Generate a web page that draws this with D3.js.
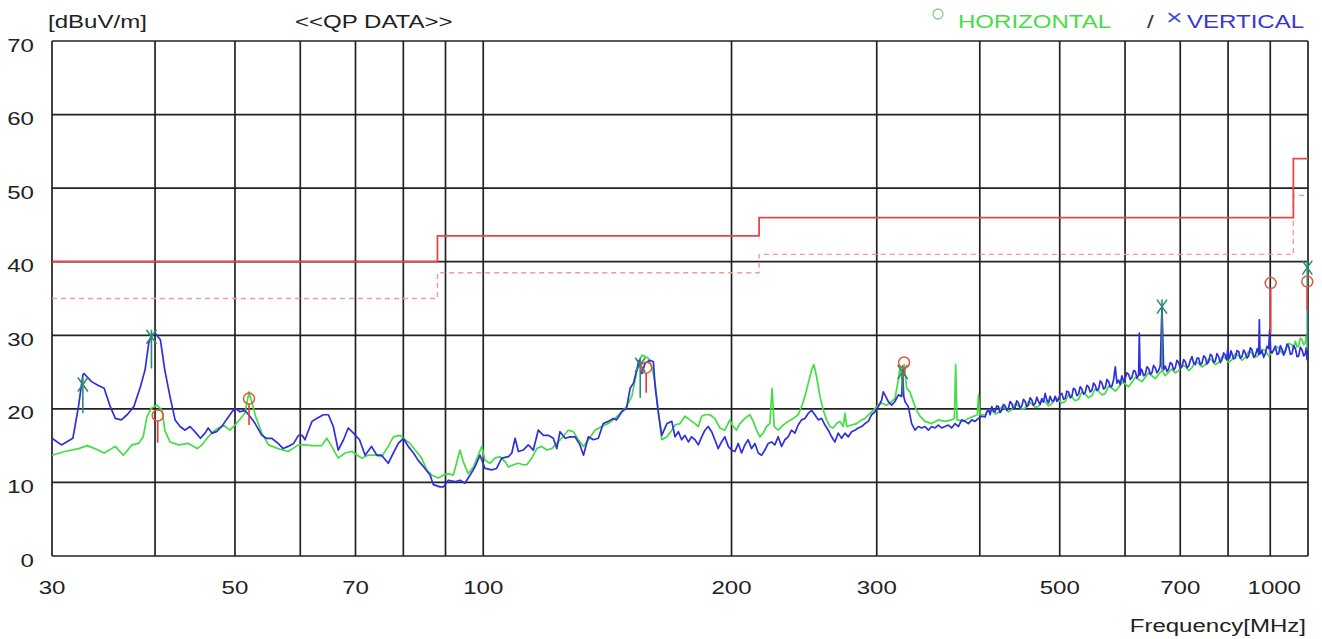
<!DOCTYPE html>
<html>
<head>
<meta charset="utf-8">
<script src="https://cdn.jsdelivr.net/npm/d3@7"></script>
<style>
html,body{margin:0;padding:0;background:#fff;}
svg{display:block;}
text{font-family:"Liberation Sans",Arial,sans-serif;}
</style>
</head>
<body>
<svg id="chart" width="1322" height="639"></svg>
<script>
// ---------- data ----------
const xTickLabels = [30, 50, 70, 100, 200, 300, 500, 700, 1000];
const xGridFreqs = [30, 40, 50, 60, 70, 80, 90, 100, 200, 300, 400, 500, 600, 700, 800, 900, 1000];
const yTickLabels = [0, 10, 20, 30, 40, 50, 60, 70];

// QP limit (solid) and margin (dashed): [MHz, dBuV/m], stepped
const limitQP = [[30, 40], [88, 43.5], [216, 46], [960, 54], [1000, 54]];
const marginQP = [[30, 35], [88, 38.5], [216, 41], [960, 49], [1000, 49]];

// Horizontal polarisation trace [MHz, dBuV/m]
const horizontalTrace = [
[30.0,13.7],[31.1,14.2],[32.3,14.6],[33.1,15.0],[33.8,14.6],[34.7,14.0],[35.8,14.9],[36.6,13.7],[37.5,15.1],[38.2,15.3],[38.7,16.2],[39.1,18.9],[39.6,20.1],[40.2,20.5],[40.8,19.8],[41.1,17.1],[41.7,15.5],[42.7,15.1],[43.9,15.3],[45.0,14.6],[45.6,15.1],[46.4,16.2],[47.3,17.1],[48.4,17.8],[49.3,17.1],[50.2,18.0],[51.4,19.4],[52.0,22.3],[53.0,18.9],[53.9,16.7],[54.9,15.1],[56.4,14.6],[58.0,14.2],[59.7,15.1],[60.8,15.1],[62.0,15.0],[63.7,15.0],[64.6,16.0],[65.5,14.9],[66.7,13.3],[68.0,14.0],[69.3,14.2],
[70.8,13.5],[71.2,13.3],[72.5,13.7],[73.9,13.7],[75.3,13.5],[76.7,14.9],[77.8,16.2],[79.3,16.4],[80.4,15.8],[81.5,15.3],[82.7,14.4],[84.2,13.3],[85.4,11.7],[86.6,11.0],[88.2,10.6],[89.5,11.0],[90.7,11.2],[92.0,11.0],[92.8,12.6],[93.7,14.4],[94.6,12.8],[95.9,11.2],[97.3,12.1],[98.6,13.7],[99.6,14.9],[100.5,13.0],[101.9,12.6],[103.3,13.3],[104.8,13.5],[106.3,12.8],[107.3,12.1],[108.8,12.4],[110.3,12.6],[111.8,12.4],[112.9,12.4],[114.5,13.3],[116.1,14.6],[117.7,14.9],[119.4,14.4],[121.1,14.6],[122.8,15.3],[124.5,16.0],[126.8,17.1],[128.6,16.9],[130.4,15.8],[132.3,14.9],[134.1,15.8],[136.6,17.1],[139.2,17.6],[141.8,18.0],[144.5,18.7],[147.2,19.6],[149.2,20.3],[151.4,21.7],[152.8,23.9],[154.2,26.2],[155.7,27.3],[157.1,27.1],[158.5,26.9],[160.1,25.7],[161.6,23.5],[163.1,19.4],[164.6,15.8],[167.0,16.2],[169.3,17.1],
[170.8,17.8],[173.2,18.0],[175.6,19.0],[178.1,18.5],[180.6,18.0],[182.3,17.6],[184.0,19.0],[185.7,19.2],[188.3,19.2],[190.9,18.7],[193.6,17.4],[196.3,17.1],[199.1,18.5],[200.9,17.6],[202.8,17.1],[204.7,18.0],[207.6,18.7],[210.5,19.2],[212.5,18.3],[214.5,17.1],[216.5,16.2],[218.5,16.7],[220.5,17.6],[222.6,18.0],[224.0,22.8],[225.3,17.6],[227.8,17.1],[231.0,17.8],[234.3,18.3],[237.6,18.7],[240.9,19.2],[243.2,20.3],[245.5,21.7],[247.8,23.5],[250.1,25.3],[251.7,26.0],[253.6,24.4],[256.0,21.7],[258.4,19.8],[260.8,18.5],[263.2,17.6],[265.7,17.4],[268.2,18.0],[270.7,18.3],[273.2,17.6],[274.5,19.4],[275.8,17.6],[279.7,17.8],[283.6,18.0],[287.6,18.5],[290.3,18.7],[294.4,19.4],[297.1,19.8],[299.9,20.3],[304.1,20.8],[308.4,20.5],[312.7,21.0],[315.6,21.4],[318.6,23.9],[320.1,25.7],[322.2,23.9],[324.0,26.0],[326.1,22.8],[329.1,22.3],[332.2,21.0],[335.3,19.8],[338.5,19.0],[343.3,18.3],[349.7,18.0],[356.3,18.5],[363.0,18.3],[369.8,18.5],[372.6,18.7],[373.9,26.0],[375.4,18.5],[382.1,18.3],[387.5,18.7],[393.0,19.0],[397.4,19.2],[398.5,21.9],[400.0,19.2],
[406.0,19.2],[409.8,19.9],[413.6,19.8],[417.5,19.3],[421.4,19.5],[425.3,20.3],[429.3,20.1],[433.3,19.6],[437.4,19.9],[441.5,20.7],[445.6,20.4],[449.8,19.9],[454.0,20.1],[458.2,21.0],[462.5,20.7],[466.8,20.2],[471.2,20.3],[475.6,21.2],[480.1,21.0],[484.6,20.4],[489.1,20.7],[493.7,21.6],[498.3,21.2],[503.0,20.8],[507.7,21.0],[512.4,22.0],[517.2,21.6],[522.1,21.1],[527.0,21.3],[531.9,22.3],[536.9,22.0],[541.9,21.5],[547.0,21.8],[552.1,22.7],[557.3,22.4],[562.5,21.9],[567.8,22.1],[573.1,23.1],[578.5,22.8],[583.9,22.4],[589.3,22.9],[594.8,23.6],[600.4,23.4],[606.0,23.0],[611.7,23.6],[617.4,24.3],[623.2,24.0],[629.0,23.7],[634.9,24.3],[640.8,24.9],[646.8,24.5],[652.9,24.1],[659.0,24.7],[665.2,25.2],[671.4,24.5],[677.7,25.0],[684.0,25.4],[690.4,24.9],[696.9,25.2],[703.4,25.9],[710.0,25.8],[716.6,25.2],[723.3,25.6],[730.1,26.4],[736.9,26.2],[743.8,25.7],[750.8,26.0],[757.8,26.8],[764.9,26.6],[772.0,26.0],[779.3,26.3],[786.6,27.1],[793.9,26.9],[801.3,26.3],[808.8,26.7],[816.4,27.5],[824.0,27.2],[831.7,26.6],[839.5,27.0],[847.4,27.8],[855.3,27.6],[863.3,27.0],[871.4,27.3],[879.5,28.1],[887.7,27.9],[896.0,27.2],[904.4,27.6],[912.9,28.5],[921.4,28.3],[930.0,27.6],[938.7,28.0],[947.5,28.9],[956.4,28.7],[960.8,28.2],[965.3,29.2],[969.8,28.4],[974.4,28.6],[978.9,29.6],[983.5,29.4],[988.1,28.7],[992.7,29.0],[995.0,29.9],[997.4,29.6]
];

// Vertical polarisation trace [MHz, dBuV/m]
const verticalTrace = [
[30.0,16.0],[30.8,15.1],[31.8,16.0],[32.3,20.3],[32.7,24.6],[32.8,24.8],[33.5,23.7],[34.1,23.2],[34.7,22.8],[35.3,20.3],[35.8,18.7],[36.4,18.5],[37.0,19.2],[37.7,20.3],[38.4,23.0],[38.9,25.3],[39.3,28.9],[39.6,30.0],[40.0,30.3],[40.6,29.4],[41.1,25.3],[41.7,21.7],[42.3,18.5],[42.9,17.6],[43.5,17.1],[44.1,17.6],[44.7,16.9],[45.4,16.0],[46.0,16.7],[46.4,17.4],[46.9,16.7],[47.5,16.9],[48.2,17.6],[48.8,18.5],[49.6,19.6],[50.0,20.1],[50.7,19.6],[51.4,19.8],[52.2,18.9],[52.9,18.0],[53.9,16.4],[54.6,16.0],[55.4,16.0],[56.4,15.3],[57.2,14.6],[58.0,14.9],[58.9,15.3],[59.7,16.4],[60.3,16.4],[60.8,15.8],[61.4,17.1],[62.0,18.3],[62.8,18.7],[64.0,19.2],[64.9,19.2],[65.8,17.6],[66.7,14.4],[67.7,15.8],[68.6,17.4],[69.6,16.7],
[70.8,15.8],[71.9,13.7],[73.2,14.9],[74.3,13.7],[75.3,13.7],[76.7,12.6],[77.8,14.0],[78.9,15.3],[80.0,16.0],[81.1,14.9],[82.3,14.0],[83.4,13.0],[85.0,11.9],[86.2,11.0],[87.0,9.7],[88.6,9.4],[89.5,9.4],[90.7,10.3],[92.4,10.1],[93.7,10.3],[95.0,9.9],[96.4,11.0],[97.7,12.1],[99.1,13.7],[100.5,11.9],[102.4,11.7],[103.8,11.9],[105.3,13.3],[107.3,13.5],[108.3,14.0],[109.3,16.0],[110.3,14.2],[111.8,14.4],[113.4,15.1],[115.0,14.4],[116.6,17.1],[118.3,16.4],[119.9,16.4],[121.6,16.0],[122.8,14.6],[123.9,16.9],[125.7,16.0],[127.4,16.2],[129.2,16.2],[131.0,15.1],[132.3,13.7],[134.1,16.2],[136.0,15.8],[137.9,16.0],[139.8,18.0],[141.8,18.3],[143.8,18.7],[145.1,18.5],[147.2,19.6],[149.2,20.1],[150.7,22.8],[152.1,23.5],[153.5,25.3],[154.5,26.6],[155.7,24.8],[157.1,26.2],[159.3,26.6],[160.8,26.4],[161.6,23.0],[163.1,19.4],[164.6,16.4],[167.0,18.0],[169.3,18.3],
[170.8,16.2],[172.4,16.9],[174.0,15.8],[175.6,16.4],[177.3,15.5],[178.9,16.2],[180.6,15.8],[182.3,15.1],[184.0,16.2],[185.7,17.1],[187.4,17.6],[189.2,16.9],[190.9,15.8],[192.7,14.6],[194.5,15.5],[196.3,16.2],[198.2,14.9],[200.0,14.4],[201.9,14.2],[203.8,15.3],[205.7,14.0],[207.6,15.1],[209.5,15.8],[211.5,14.6],[213.5,15.3],[215.5,14.0],[217.5,13.7],[219.5,14.4],[221.6,15.3],[223.6,15.5],[225.7,15.1],[227.8,16.2],[230.0,14.9],[232.1,15.8],[234.3,16.2],[236.5,17.1],[238.7,16.7],[240.9,17.8],[243.2,18.5],[245.5,18.7],[247.8,19.4],[250.1,19.8],[252.4,19.2],[254.8,18.5],[257.2,18.7],[259.6,17.8],[262.0,17.1],[264.5,16.2],[266.9,15.5],[269.4,16.7],[272.0,16.0],[274.5,16.7],[277.1,16.2],[279.7,16.9],[282.3,17.1],[284.9,17.4],[287.6,17.6],[290.3,18.0],[293.0,18.3],[295.7,19.2],[298.5,19.6],[301.3,20.3],[304.1,21.2],[305.5,22.3],[306.9,21.9],[309.8,21.0],[312.7,20.5],[315.6,21.0],[318.6,21.9],[321.6,21.7],[322.5,24.8],[323.5,21.7],[324.6,21.0],[327.6,20.3],[330.7,18.0],[333.8,17.1],[336.9,17.6],[340.1,17.4],[343.3,17.6],[346.5,17.1],[349.7,17.6],[353.0,17.4],[356.3,17.8],[359.6,17.4],[363.0,17.6],[366.4,17.8],[369.8,17.4],[373.3,18.0],[376.8,17.6],[380.3,18.5],[383.9,18.3],[387.5,18.0],[391.1,18.5],[394.8,18.3],[398.5,18.7],[402.2,19.0],
[406.0,18.9],[407.9,19.6],[409.8,19.9],[411.7,19.2],[413.6,20.3],[415.5,19.7],[417.5,19.6],[419.4,20.4],[421.4,20.3],[423.3,19.5],[425.3,19.8],[427.3,20.6],[429.3,20.4],[431.3,19.8],[433.3,20.1],[435.3,21.0],[437.4,20.7],[439.4,20.0],[441.5,20.2],[443.5,21.1],[445.6,20.8],[447.7,20.1],[449.8,20.4],[451.9,21.3],[454.0,21.0],[456.1,20.3],[458.2,20.5],[460.3,21.5],[462.5,21.2],[464.6,20.5],[466.8,20.7],[469.0,21.6],[471.2,21.0],[473.4,20.6],[475.6,21.4],[477.8,20.9],[480.1,22.1],[482.3,21.2],[484.6,20.8],[486.8,21.7],[489.1,21.1],[491.4,21.0],[493.7,21.7],[496.0,21.0],[498.3,21.3],[500.6,22.0],[503.0,22.1],[505.3,21.3],[507.7,21.4],[510.0,22.4],[512.4,22.3],[514.8,21.5],[517.2,21.7],[519.6,22.8],[522.1,22.6],[524.5,21.8],[527.0,22.0],[529.4,23.0],[531.9,22.7],[534.4,22.0],[536.9,22.2],[539.4,23.2],[541.9,23.0],[544.4,22.3],[547.0,22.5],[549.5,23.5],[552.1,23.2],[554.7,22.5],[557.3,22.7],[559.9,23.8],[562.5,23.5],[565.1,22.7],[567.8,22.9],[570.4,24.0],[573.1,23.7],[575.8,23.0],[578.5,23.1],[581.2,24.0],[583.9,25.7],[586.6,23.5],[589.3,23.9],[592.0,23.3],[594.8,24.5],[597.6,23.7],[600.4,24.2],[603.2,24.9],[606.0,24.7],[608.8,24.0],[611.7,24.3],[614.5,25.2],[617.4,25.1],[620.3,24.2],[623.2,24.6],[624.4,30.3],[625.9,24.6],[627.4,25.4],[629.0,25.3],[631.9,24.5],[634.9,24.7],[637.8,25.7],[640.8,25.5],[643.8,24.7],[646.8,24.9],[649.8,25.9],[652.9,25.6],[655.9,24.9],[659.0,25.2],[662.1,25.9],[665.2,34.0],[668.3,25.3],[671.4,25.8],[674.5,25.1],[677.7,25.4],[680.8,26.3],[684.0,26.1],[687.2,25.3],[690.4,25.6],[693.6,26.6],[696.9,26.3],[700.1,25.5],[703.4,25.7],[706.7,26.7],[710.0,26.4],[713.3,25.6],[716.6,25.8],[720.0,26.6],[723.3,27.1],[726.7,26.2],[730.1,26.0],[733.5,26.9],[736.9,26.9],[740.3,26.0],[743.8,26.2],[747.3,27.2],[750.8,27.0],[754.3,26.1],[757.8,26.4],[761.3,27.4],[764.9,27.2],[768.4,26.3],[772.0,26.5],[775.6,27.5],[779.3,27.1],[782.9,26.3],[786.6,26.7],[790.2,27.6],[793.9,27.3],[796.7,26.7],[799.5,28.2],[801.8,26.8],[804.0,27.0],[806.4,27.9],[808.8,27.5],[812.6,26.8],[816.4,26.9],[820.2,27.9],[824.0,27.8],[827.8,26.9],[831.7,27.1],[835.6,28.0],[839.5,27.6],[843.4,26.9],[847.4,27.2],[851.3,28.3],[855.3,28.0],[859.3,27.0],[863.3,27.3],[868.2,28.2],[871.4,27.4],[873.0,32.1],[874.6,27.5],[876.2,27.5],[879.5,27.9],[883.6,27.0],[887.7,27.5],[891.8,28.5],[896.0,28.2],[898.5,30.7],[901.0,27.9],[904.4,27.6],[908.6,28.0],[912.9,28.5],[917.1,27.4],[921.4,27.5],[925.7,28.6],[930.0,28.1],[934.3,27.3],[938.7,27.8],[943.1,28.8],[947.5,28.5],[952.0,27.4],[956.4,27.5],[960.8,28.6],[965.3,28.2],[969.8,27.1],[974.4,27.2],[978.9,28.4],[983.5,28.0],[988.1,27.2],[992.7,27.5],[995.0,28.3],[997.4,26.6]
];

// QP markers: [MHz, level, stem bottom level]
const horizontalMarks = [[40.3,19.1,15.4],[52.0,21.4,17.8],[157.6,25.6,22.2],[323.8,26.3,24.5],[901,37.1,30.3],[998,37.3,33.4]];
const verticalMarks = [[32.7,23.3,19.4],[39.6,29.8,25.5],[155.0,26.0,21.5],[322.5,25.0,22.0],[665.2,33.9,25.3],[998,39.2,28.0]];

// ---------- drawing ----------
const svg = d3.select("#chart");
const x = d3.scaleLog().domain([30, 1000]).range([52, 1308]);
const y = d3.scaleLinear().domain([0, 70]).range([556, 41]);

const TEXT_COLOR = "#222";
function addText(px, py, str, anchor, color, size) {
  svg.append("text")
    .attr("transform", `translate(${px},${py}) scale(1.3,1)`)
    .attr("text-anchor", anchor)
    .attr("fill", color)
    .attr("font-size", size || 18.5)
    .text(str);
}

// grid
const grid = svg.append("g").attr("stroke", "#222").attr("stroke-width", 1.7);
grid.selectAll("line.v").data(xGridFreqs).join("line")
  .attr("x1", d => x(d)).attr("x2", d => x(d))
  .attr("y1", y(70)).attr("y2", y(0));
grid.selectAll("line.h").data(yTickLabels).join("line")
  .attr("x1", x(30)).attr("x2", x(1000))
  .attr("y1", d => y(d)).attr("y2", d => y(d));

// axis labels
yTickLabels.forEach(v => addText(34, y(v) + 10.5, String(v), "end", TEXT_COLOR));
xTickLabels.forEach(v => {
  if (v === 1000) addText(1301, 594, String(v), "end", TEXT_COLOR);
  else addText(x(v), 594, String(v), "middle", TEXT_COLOR);
});
addText(48, 28, "[dBuV/m]", "start", TEXT_COLOR);
addText(295, 28, "<<QP DATA>>", "start", TEXT_COLOR);
addText(1306, 632, "Frequency[MHz]", "end", TEXT_COLOR);

// legend
svg.append("circle").attr("cx", 938).attr("cy", 14).attr("r", 5)
  .attr("fill", "none").attr("stroke", "#93c993").attr("stroke-width", 1.3);
addText(958, 28, "HORIZONTAL", "start", "#45dd45");
addText(1147, 28, "/", "start", "#333");
addText(1166, 25, "×", "start", "#4a4ad8", 22);
addText(1187, 28, "VERTICAL", "start", "#3636d6");

// limit lines
const stepLine = d3.line().x(d => x(d[0])).y(d => y(d[1])).curve(d3.curveStepAfter);
svg.append("path").datum(marginQP).attr("d", stepLine)
  .attr("fill", "none").attr("stroke", "#f19a9a").attr("stroke-width", 1.4)
  .attr("stroke-dasharray", "5,4");
svg.append("path").datum(limitQP).attr("d", stepLine)
  .attr("fill", "none").attr("stroke", "#e8474a").attr("stroke-width", 1.8);

// traces
const traceLine = d3.line().x(d => x(d[0])).y(d => y(d[1]));
svg.append("path").datum(horizontalTrace).attr("d", traceLine)
  .attr("fill", "none").attr("stroke", "#44dd44").attr("stroke-width", 1.7)
  .attr("stroke-linejoin", "round");
svg.append("path").datum(verticalTrace).attr("d", traceLine)
  .attr("fill", "none").attr("stroke", "#2f2fdc").attr("stroke-width", 1.7)
  .attr("stroke-linejoin", "round");

// vertical QP markers (x with stem)
const vm = svg.append("g").attr("stroke", "#2e8c74").attr("stroke-width", 1.6).attr("fill", "none");
verticalMarks.forEach(m => {
  const cx = x(m[0]), cy = y(m[1]);
  vm.append("line").attr("x1", cx).attr("x2", cx).attr("y1", cy - 7).attr("y2", y(m[2]));
  vm.append("path").attr("d", `M${cx - 5},${cy - 7}L${cx + 5},${cy + 7}M${cx + 5},${cy - 7}L${cx - 5},${cy + 7}`);
});

// horizontal QP markers (circle with stem)
horizontalMarks.forEach(m => {
  const cx = x(m[0]), cy = y(m[1]);
  svg.append("line").attr("x1", cx).attr("x2", cx).attr("y1", cy + 5.5).attr("y2", y(m[2]))
    .attr("stroke", "#e6383a").attr("stroke-width", 1.6);
  svg.append("circle").attr("cx", cx).attr("cy", cy).attr("r", 5.5)
    .attr("fill", "none").attr("stroke", "#e2553c").attr("stroke-width", 1.5);
});
</script>
</body>
</html>
